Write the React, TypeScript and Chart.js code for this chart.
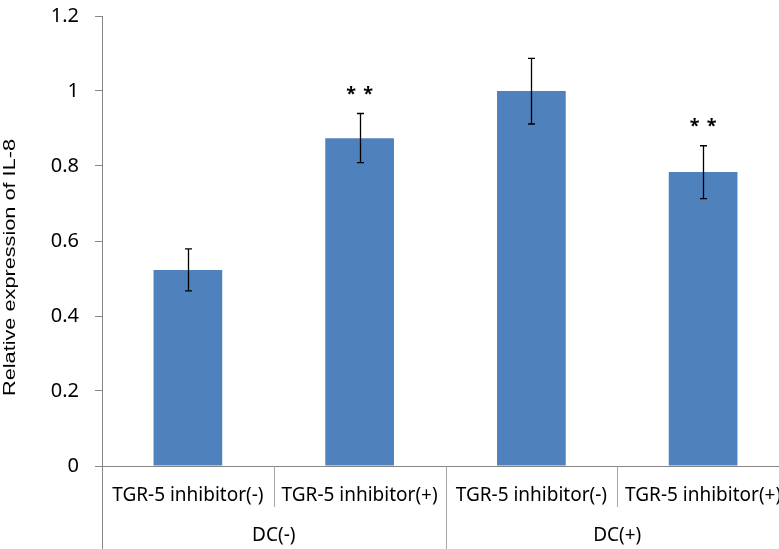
import React, { useEffect, useRef } from "react";
import { Chart, registerables } from "chart.js";

Chart.register(...registerables);

// ---- data ----
const categories = [
  "TGR-5 inhibitor(-)",
  "TGR-5 inhibitor(+)",
  "TGR-5 inhibitor(-)",
  "TGR-5 inhibitor(+)",
];
const groups = ["DC(-)", "DC(+)"];
const groupSpans = [2, 2];
const values = [0.523, 0.874, 1.0, 0.784];
const errLow = [0.467, 0.809, 0.912, 0.713];
const errHigh = [0.579, 0.94, 1.087, 0.854];
const marks = ["", "* *", "", "* *"];
const yTickValues = [0, 0.2, 0.4, 0.6, 0.8, 1.0, 1.2];
const yTitle = "Relative expression of IL-8";

const AXIS = "#868686";
const SEP = "#a6a6a6";
const BAR = "#4f81bd";
const LABEL_FONT = "'Noto Sans', 'DejaVu Sans', sans-serif";

const overlay = {
  id: "overlay",
  afterDatasetsDraw(chart: any) {
    const ctx = chart.ctx;
    const x = chart.scales.x;
    const y = chart.scales.y;
    ctx.save();
    // error bars
    ctx.strokeStyle = "#000";
    ctx.lineWidth = 1.3;
    for (let i = 0; i < values.length; i++) {
      const cx = Math.round(x.getPixelForValue(i)) + 0.5;
      const yt = y.getPixelForValue(errHigh[i]);
      const yb = y.getPixelForValue(errLow[i]);
      ctx.beginPath();
      ctx.moveTo(cx, yt);
      ctx.lineTo(cx, yb);
      ctx.moveTo(cx - 3.5, yt);
      ctx.lineTo(cx + 3.5, yt);
      ctx.moveTo(cx - 3.5, yb);
      ctx.lineTo(cx + 3.5, yb);
      ctx.stroke();
    }
    // significance marks
    ctx.fillStyle = "#000";
    ctx.font = "bold 18px " + LABEL_FONT;
    ctx.textAlign = "center";
    ctx.textBaseline = "alphabetic";
    for (let i = 0; i < marks.length; i++) {
      if (!marks[i]) continue;
      const cx = x.getPixelForValue(i);
      const yt = y.getPixelForValue(errHigh[i]);
      const parts = marks[i].split(" ");
      const gap = 17;
      const start = cx - ((parts.length - 1) * gap) / 2;
      parts.forEach((p: string, k: number) => {
        ctx.fillText(p, start + k * gap, yt - 14);
      });
    }
    ctx.restore();
  },
  afterDraw(chart: any) {
    const ctx = chart.ctx;
    const x = chart.scales.x;
    const area = chart.chartArea;
    const H = chart.height;
    const n = categories.length;
    const cw = (area.right - area.left) / n;
    ctx.save();
    // separators
    const groupBounds = new Set<number>();
    let acc = 0;
    groupBounds.add(0);
    groupSpans.forEach((s) => {
      acc += s;
      groupBounds.add(acc);
    });
    ctx.lineWidth = 1;
    for (let i = 0; i <= n; i++) {
      const bx = Math.round(area.left + i * cw) + 0.5;
      const long = groupBounds.has(i);
      ctx.strokeStyle = i === 0 ? AXIS : SEP;
      ctx.beginPath();
      ctx.moveTo(bx, area.bottom);
      ctx.lineTo(bx, long ? H : area.bottom + 41);
      ctx.stroke();
    }
    // category labels
    ctx.fillStyle = "#000";
    ctx.font = "19px " + LABEL_FONT;
    ctx.textAlign = "center";
    ctx.textBaseline = "alphabetic";
    categories.forEach((c, i) => {
      ctx.fillText(c, x.getPixelForValue(i), area.bottom + 35);
    });
    // group labels
    let s = 0;
    groups.forEach((g, gi) => {
      const l = area.left + s * cw;
      const r = area.left + (s + groupSpans[gi]) * cw;
      ctx.fillText(g, (l + r) / 2, area.bottom + 75);
      s += groupSpans[gi];
    });
    // y title (rotated)
    ctx.translate(15, 267.5);
    ctx.rotate(-Math.PI / 2);
    ctx.font = "17px 'Liberation Sans', Arial, sans-serif";
    const w = ctx.measureText(yTitle).width;
    ctx.scale(257 / w, 1);
    ctx.textAlign = "center";
    ctx.fillText(yTitle, 0, 0);
    ctx.restore();
  },
};

export default function App() {
  const ref = useRef<HTMLCanvasElement | null>(null);
  useEffect(() => {
    if (!ref.current) return;
    const chart = new Chart(ref.current, {
      type: "bar",
      data: {
        labels: categories,
        datasets: [
          {
            data: values,
            backgroundColor: BAR,
            borderWidth: 0,
            barPercentage: 0.4,
            categoryPercentage: 1.0,
          },
        ],
      },
      options: {
        responsive: false,
        animation: false,
        devicePixelRatio: 1,
        layout: { padding: { top: 16, right: 3, bottom: 0, left: 0 } },
        plugins: {
          legend: { display: false },
          tooltip: { enabled: false },
        },
        scales: {
          x: {
            type: "category",
            grid: { display: false },
            ticks: { display: false },
            border: { display: true, color: AXIS, width: 1 },
            afterFit: (sc: any) => {
              sc.height = 83;
            },
          },
          y: {
            min: 0,
            max: 1.2,
            afterBuildTicks: (sc: any) => {
              sc.ticks = yTickValues.map((v) => ({ value: v }));
            },
            ticks: {
              padding: 16,
              color: "#000",
              font: { size: 20, family: LABEL_FONT },
              callback: (v: any) => String(Number(Number(v).toFixed(1))),
            },
            grid: {
              display: true,
              drawOnChartArea: false,
              drawTicks: true,
              tickLength: 7,
              color: AXIS,
            },
            border: { display: true, color: AXIS, width: 1 },
            afterFit: (sc: any) => {
              sc.width = 102;
              sc.paddingTop = 0;
              sc.paddingBottom = 0;
            },
          },
        },
      },
      plugins: [overlay],
    });
    return () => chart.destroy();
  }, []);
  return (
    <div
      style={{
        position: "fixed",
        left: 0,
        top: 0,
        width: 779,
        height: 549,
        overflow: "hidden",
        background: "#fff",
      }}
    >
      <canvas ref={ref} width={792} height={549} style={{ width: 792, height: 549 }} />
    </div>
  );
}
